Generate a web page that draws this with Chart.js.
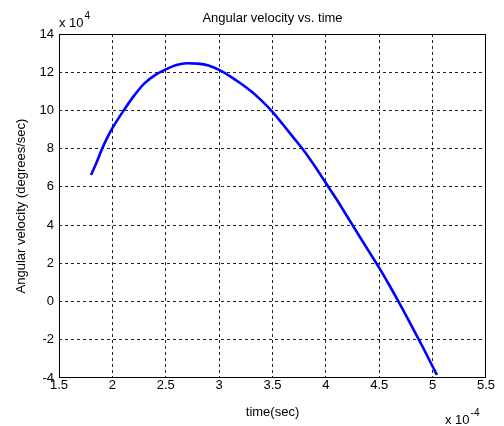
<!DOCTYPE html>
<html>
<head>
<meta charset="utf-8">
<script src="https://cdn.jsdelivr.net/npm/chart.js@4/dist/chart.umd.min.js"></script>
<style>
  html, body { margin: 0; padding: 0; background: #fff; }
  #wrap { width: 504px; height: 426px; }
</style>
</head>
<body>
<div id="wrap"><canvas id="velChart" width="504" height="426"></canvas></div>
<script>
// time in units of 1e-4 sec, velocity in units of 1e4 deg/sec
const timeVals = [1.80, 1.85, 1.90, 1.95, 2.00, 2.10, 2.20, 2.30, 2.40, 2.50, 2.60, 2.70, 2.80, 2.90, 3.00, 3.10, 3.20, 3.30, 3.40, 3.50, 3.60, 3.70, 3.80, 3.90, 4.00, 4.10, 4.20, 4.30, 4.40, 4.50, 4.60, 4.70, 4.80, 4.90, 5.00, 5.04];
const velVals  = [6.62, 7.25, 7.95, 8.55, 9.07, 9.95, 10.75, 11.42, 11.85, 12.15, 12.38, 12.47, 12.45, 12.35, 12.12, 11.8, 11.42, 11.0, 10.5, 9.93, 9.25, 8.55, 7.85, 7.05, 6.2, 5.35, 4.45, 3.55, 2.65, 1.76, 0.8, -0.2, -1.25, -2.3, -3.4, -3.84];
const xTicks = [1.5, 2, 2.5, 3, 3.5, 4, 4.5, 5, 5.5];
const yTicks = [-4, -2, 0, 2, 4, 6, 8, 10, 12, 14];

const FONT = "'Liberation Sans', Arial, Helvetica, sans-serif";

document.addEventListener("DOMContentLoaded", () => {
  const canvas = document.getElementById("velChart");
  const points = timeVals.map((t, i) => ({ x: t, y: velVals[i] }));

  const isEdge = ctx => ctx.index === 0 || ctx.index === ctx.chart.scales[ctx.scale.id].ticks.length - 1;

  // frame box, title and the exponent notes (x 10^4, x 10^-4)
  const extras = {
    id: "extras",
    afterDraw(chart) {
      const { ctx, chartArea: a } = chart;
      ctx.save();
      ctx.strokeStyle = "#000";
      ctx.lineWidth = 1;
      ctx.strokeRect(Math.round(a.left) + 0.5, Math.round(a.top) + 0.5,
        Math.round(a.right - a.left) - 1, Math.round(a.bottom - a.top) - 1);

      ctx.fillStyle = "#000";
      ctx.textBaseline = "alphabetic";
      ctx.textAlign = "center";
      ctx.font = "13px " + FONT;
      ctx.fillText("Angular velocity vs. time", (a.left + a.right) / 2, 22);

      ctx.textAlign = "left";
      ctx.font = "13px " + FONT;
      ctx.fillText("x 10", 59, 27);
      let w = ctx.measureText("x 10").width;
      ctx.font = "10px " + FONT;
      ctx.fillText("4", 59 + w + 1, 19);

      ctx.font = "13px " + FONT;
      ctx.fillText("x 10", 445, 424);
      w = ctx.measureText("x 10").width;
      ctx.font = "10px " + FONT;
      ctx.fillText("-4", 445 + w + 1, 416);
      ctx.restore();
    }
  };

  new Chart(canvas.getContext("2d"), {
    type: "line",
    data: {
      datasets: [{
        data: points,
        borderColor: "#0000ff",
        borderWidth: 2.6,
        pointRadius: 0,
        cubicInterpolationMode: "monotone",
        fill: false
      }]
    },
    options: {
      responsive: false,
      animation: false,
      layout: { padding: { top: 34, right: 18, left: 0, bottom: 0 } },
      plugins: { legend: { display: false }, tooltip: { enabled: false } },
      scales: {
        x: {
          type: "linear",
          min: 1.5,
          max: 5.5,
          afterBuildTicks: s => { s.ticks = xTicks.map(v => ({ value: v })); },
          afterFit: s => { s.height = 48; },
          ticks: {
            color: "#000",
            font: { family: FONT, size: 13 },
            padding: 0,
            maxRotation: 0,
            autoSkip: false,
            callback: v => String(v)
          },
          grid: {
            color: c => isEdge(c) ? "rgba(0,0,0,0)" : "#222",
            lineWidth: 1,
            drawTicks: false
          },
          border: { display: false, dash: [3, 3] },
          title: {
            display: true,
            text: "time(sec)",
            color: "#000",
            font: { family: FONT, size: 13 },
            padding: { top: 0, bottom: 6 }
          }
        },
        y: {
          type: "linear",
          min: -4,
          max: 14,
          afterBuildTicks: s => { s.ticks = yTicks.map(v => ({ value: v })); },
          afterFit: s => { s.width = 59; },
          ticks: {
            color: "#000",
            font: { family: FONT, size: 13 },
            padding: 5,
            autoSkip: false,
            callback: v => String(v)
          },
          grid: {
            color: c => isEdge(c) ? "rgba(0,0,0,0)" : "#222",
            lineWidth: 1,
            drawTicks: false
          },
          border: { display: false, dash: [3, 3] },
          title: {
            display: true,
            text: "Angular velocity (degrees/sec)",
            color: "#000",
            font: { family: FONT, size: 13 },
            padding: { top: 14, bottom: 0 }
          }
        }
      }
    },
    plugins: [extras]
  });
});
</script>
</body>
</html>
